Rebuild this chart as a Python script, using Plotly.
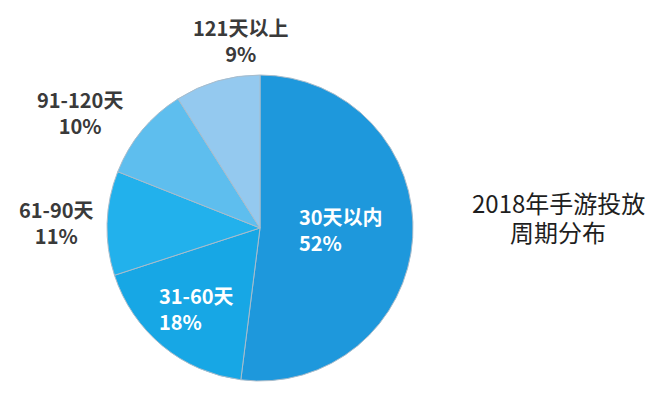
import plotly.graph_objects as go

labels = ["30天以内", "31-60天", "61-90天", "91-120天", "121天以上"]
values = [52, 18, 11, 10, 9]
colors = ["#1E98DC", "#17A7E5", "#22B1EC", "#5EBEEE", "#94C9EF"]
title_lines = ["2018年手游投放", "周期分布"]

W, H = 668, 398
OFF = 8  # browser body margin
cx, cy, r = 260 - OFF, 228 - OFF, 153

fig = go.Figure(go.Pie(
    labels=labels,
    values=values,
    sort=False,
    direction="clockwise",
    rotation=0,
    marker=dict(colors=colors, line=dict(color="#A9BCCB", width=1)),
    textinfo="none",
    domain=dict(x=[(cx - r) / W, (cx + r) / W], y=[(H - cy - r) / H, (H - cy + r) / H]),
    showlegend=False,
    hoverinfo="label+percent",
))

# label placements (screen px, as in the reference layout), text from data
label_pos = {
    "30天以内": (297, 229, "left", "#FFFFFF"),
    "31-60天": (157, 308, "left", "#FFFFFF"),
    "61-90天": (56, 222, "center", "#3A3A3A"),
    "91-120天": (80, 112, "center", "#3A3A3A"),
    "121天以上": (240, 40, "center", "#3A3A3A"),
}
for lab, val in zip(labels, values):
    x, y, al, col = label_pos[lab]
    fig.add_annotation(
        x=(x - OFF) / W, y=1 - (y - OFF) / H, xref="paper", yref="paper",
        text=f"{lab}<br>{val}%", showarrow=False,
        xanchor=al if al == "left" else "center", yanchor="middle", align=al,
        font=dict(family="Noto Sans CJK SC", size=20, color=col, weight="bold"),
    )

title_y = [202, 231]
for line, ty in zip(title_lines, title_y):
    fig.add_annotation(
        x=(558 - OFF) / W, y=1 - (ty - OFF) / H, xref="paper", yref="paper",
        text=line, showarrow=False,
        xanchor="center", yanchor="middle", align="center",
        font=dict(family="Noto Sans CJK SC", size=24, color="#1E1E1E"),
    )

fig.update_layout(
    width=W, height=H,
    margin=dict(l=0, r=0, t=0, b=0),
    paper_bgcolor="white", plot_bgcolor="white",
)

fig.write_html("out.html")
